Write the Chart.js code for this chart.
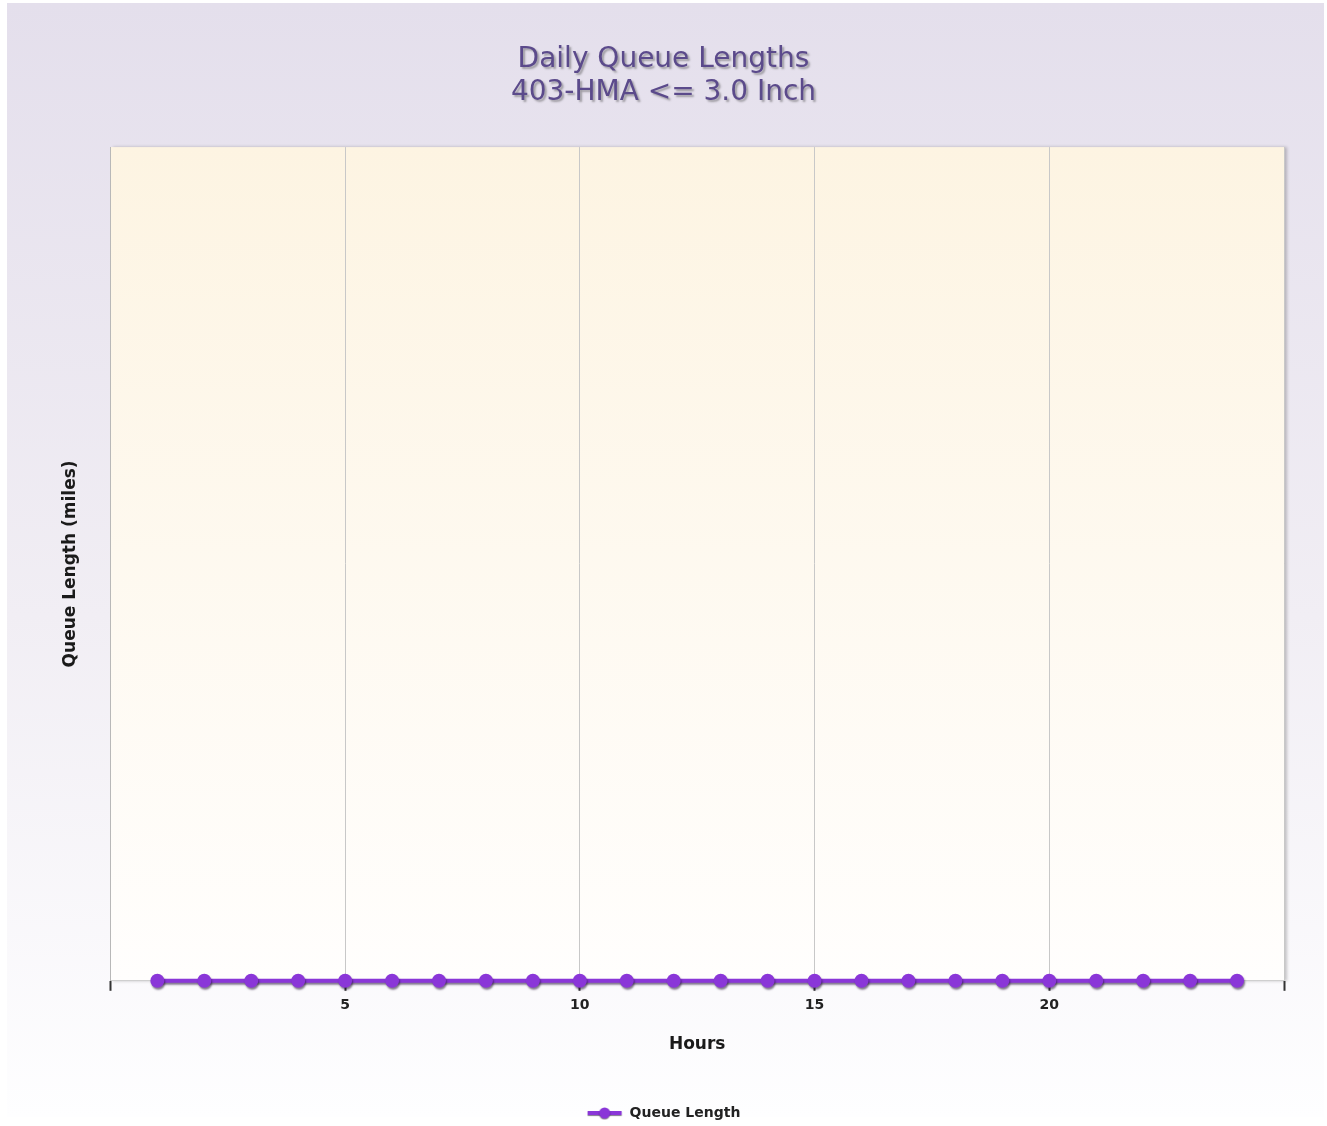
<!DOCTYPE html>
<html>
<head>
<meta charset="utf-8">
<title>Daily Queue Lengths</title>
<script src="https://cdn.jsdelivr.net/npm/chart.js@4.4.1/dist/chart.umd.min.js"></script>
<style>
    html, body { margin: 0; padding: 0; background: #ffffff; overflow: hidden; }
    #contenedor { width: 1327px; height: 1126px; }
</style>
</head>
<body>
<div id="contenedor"><canvas id="colaChart" width="1327" height="1126"></canvas></div>
<script>
// 1. Datos de la gráfica
const tituloGrafica = ['Daily Queue Lengths', '403-HMA <= 3.0 Inch'];
const horas = [1, 2, 3, 4, 5, 6, 7, 8, 9, 10, 11, 12, 13, 14, 15, 16, 17, 18, 19, 20, 21, 22, 23, 24];
const longitudCola = [0, 0, 0, 0, 0, 0, 0, 0, 0, 0, 0, 0, 0, 0, 0, 0, 0, 0, 0, 0, 0, 0, 0, 0];
const etiquetasX = [5, 10, 15, 20];
const nombreSerie = 'Queue Length';

const colorSerie = '#8a36d8';
const fuente = 'DejaVu Sans';

// 2. Marca de la leyenda: línea con punto en medio
const marca = document.createElement('canvas');
marca.width = 36;
marca.height = 14;
const m = marca.getContext('2d');
m.shadowColor = 'rgba(30,10,50,0.55)';
m.shadowOffsetY = 1;
m.shadowBlur = 1;
m.strokeStyle = colorSerie;
m.lineWidth = 4;
m.beginPath(); m.moveTo(1, 7); m.lineTo(35, 7); m.stroke();
m.fillStyle = colorSerie;
m.beginPath(); m.arc(18, 7, 5.5, 0, Math.PI * 2); m.fill();

// 3. Fondos con degradado (lienzo y área de trazado) + sombras
const fondoPlugin = {
    id: 'fondo',
    beforeDraw(chart) {
        const { ctx, chartArea: a } = chart;
        ctx.save();
        let g = ctx.createLinearGradient(0, 3, 0, 1117);
        g.addColorStop(0, '#e4dfec');
        g.addColorStop(0.55, '#f1eef4');
        g.addColorStop(1, '#fefeff');
        ctx.fillStyle = g;
        ctx.fillRect(7, 3, 1317, 1114);

        ctx.shadowColor = 'rgba(0,0,0,0.22)';
        ctx.shadowOffsetX = 3;
        ctx.shadowOffsetY = 0;
        ctx.shadowBlur = 3;
        g = ctx.createLinearGradient(0, a.top, 0, a.bottom);
        g.addColorStop(0, '#fdf4e2');
        g.addColorStop(1, '#fffefd');
        ctx.fillStyle = g;
        ctx.fillRect(a.left, a.top, a.right - a.left, a.bottom - a.top);
        ctx.restore();
    },
    afterLayout(chart) {
        // sombra para el título
        const t = chart.titleBlock;
        if (t && !t._conSombra) {
            const dibujar = t.draw.bind(t);
            t.draw = function (area) {
                const c = chart.ctx;
                c.save();
                c.shadowColor = 'rgba(70,70,70,0.45)';
                c.shadowOffsetX = 2;
                c.shadowOffsetY = 2;
                c.shadowBlur = 2;
                dibujar(area);
                c.restore();
            };
            t._conSombra = true;
        }
    },
    beforeDatasetsDraw(chart) {
        const c = chart.ctx;
        c.save();
        c.shadowColor = 'rgba(30,10,50,0.55)';
        c.shadowOffsetX = 1;
        c.shadowOffsetY = 2;
        c.shadowBlur = 2;
    },
    afterDatasetsDraw(chart) {
        chart.ctx.restore();
    }
};

// 4. Gráfica
new Chart(document.getElementById('colaChart'), {
    type: 'line',
    data: {
        labels: horas,
        datasets: [{
            label: nombreSerie,
            data: horas.map((h, i) => ({ x: h, y: longitudCola[i] })),
            borderColor: colorSerie,
            backgroundColor: colorSerie,
            borderWidth: 4,
            pointRadius: 7,
            pointBorderWidth: 0,
            pointBackgroundColor: colorSerie,
            clip: false,
            tension: 0
        }]
    },
    options: {
        responsive: false,
        animation: false,
        devicePixelRatio: 1,
        layout: { padding: { left: 0, right: 0, top: 0, bottom: -4 } },
        scales: {
            x: {
                type: 'linear',
                min: 0,
                max: 25,
                ticks: {
                    stepSize: 5,
                    maxRotation: 0,
                    padding: 6,
                    color: '#222222',
                    font: { family: fuente, size: 14, weight: 'bold' },
                    callback: v => etiquetasX.includes(v) ? String(v) : ''
                },
                grid: {
                    color: '#c8c8c8',
                    lineWidth: 1,
                    tickLength: 10,
                    tickColor: '#333333',
                    tickWidth: 2
                },
                border: { display: true, color: '#cfcfcf', width: 1 },
                title: {
                    display: true,
                    text: 'Hours',
                    color: '#1a1a1a',
                    font: { family: fuente, size: 17, weight: 'bold' },
                    padding: { top: 15, bottom: 41 }
                }
            },
            y: {
                min: 0,
                max: 1,
                ticks: { display: false },
                grid: { display: false, drawTicks: false },
                border: { display: true, color: '#b8b8b8', width: 1 },
                title: {
                    display: true,
                    text: 'Queue Length (miles)',
                    color: '#1a1a1a',
                    font: { family: fuente, size: 17, weight: 'bold' },
                    padding: { top: 60, bottom: 30 }
                }
            },
            // margen derecho (sin marcas), para centrar título y leyenda en todo el lienzo
            yDer: {
                position: 'right',
                display: true,
                ticks: { display: false },
                grid: { display: false, drawTicks: false },
                border: { display: false },
                afterFit(s) { s.width = 43; }
            }
        },
        plugins: {
            title: {
                display: true,
                text: tituloGrafica,
                color: '#5b4a8b',
                font: { family: fuente, size: 28, weight: 'normal', lineHeight: 1.18 },
                padding: { top: 43, bottom: 38 }
            },
            legend: {
                position: 'bottom',
                labels: {
                    usePointStyle: true,
                    pointStyleWidth: 36,
                    boxHeight: 14,
                    padding: 10,
                    color: '#222222',
                    font: { family: fuente, size: 14, weight: 'bold' },
                    generateLabels(chart) {
                        return Chart.defaults.plugins.legend.labels.generateLabels(chart)
                            .map(item => Object.assign(item, { pointStyle: marca }));
                    }
                }
            },
            tooltip: { enabled: false }
        }
    },
    plugins: [fondoPlugin]
});
</script>
</body>
</html>
